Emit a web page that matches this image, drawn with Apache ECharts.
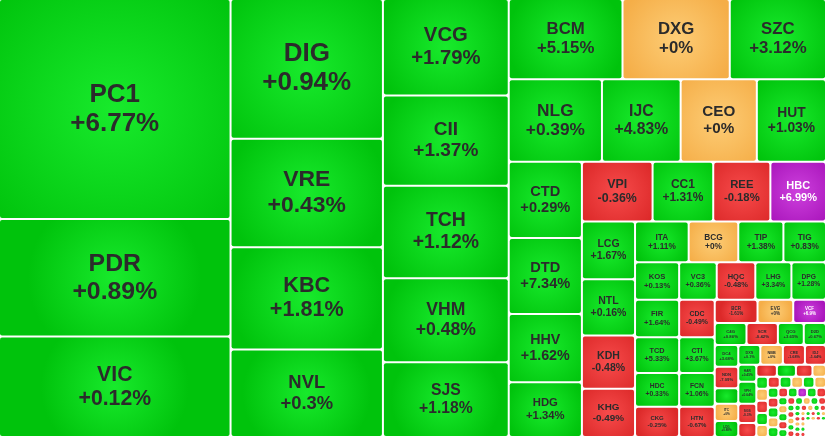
<!DOCTYPE html>
<html>
<head>
<meta charset="utf-8">
<script src="https://cdn.jsdelivr.net/npm/echarts@6/dist/echarts.min.js"></script>
<style>
html,body{margin:0;padding:0;background:#ffffff;}
#chart{width:825px;height:436px;}
</style>
</head>
<body>
<div id="chart"></div>
<script>
// ---- DATA ----
// Tickers in drawing order
const tickers = [
  'PC1','PDR','VIC',
  'DIG','VRE','KBC','NVL',
  'VCG','CII','TCH','VHM','SJS',
  'BCM','DXG','SZC',
  'NLG','IJC','CEO','HUT',
  'CTD','DTD','HHV','HDG',
  'VPI','CC1','REE','HBC',
  'LCG','NTL','KDH','KHG',
  'ITA','BCG','TIP','TIG',
  'KOS','FIR','TCD','HDC','CKG',
  'VC3','HQC','LHG','DPG',
  'CDC','CTI','FCN','HTN',
  'BCR','EVG','VCF',
  'C4G','SCR','QCG','D2D',
  'DC4','NDN','L14','ITC','LDG',
  'DXS','NBB','CRE','IDJ',
  'HAR','VPH','SGS','PTL',
  'TDC','API','PVL','NRC',
  'HPX','SZL','TDH','SIP','DRH',
  'LGL','TIX','HLD','VRC','D11',
  'SZB','KHA','NHA','PDC','CCL',
  'AGG','BII','PPI','LEC','NVT',
  'HD2','SDU','IDV','IDC','DIH',
  'HU1','VCR','KDM','RCL','DTA',
  'CIG','OGC','TN1','VC7','PXL',
  'NTC','SID','PWA','HLR','VPR',
  'BAX','SNZ','HPI','TNI','VHD',
  'PIV','VRG','TLD','DLR','KSF',
  'NDX','HTT','PVR','SHN',
  'VNI','BVL','PVV','QNC'
];
// Size of each cell (relative weight)
const values = [
  50589,27027,23100,
  21128,16416,15504,13224,
  12048,11295,11546,10479,9350,
  9080,8560,7680,
  7626,6437,6232,5658,
  5548,5512,4964,3979,
  4195,3600,3392,3302,
  3048,2968,2809,2544,
  2167,2005,1823,1721,
  1650,1637,1566,1483,1320,
  1406,1444,1350,1294,
  1321,1264,1196,1065,
  982,819,752,
  697,689,568,488,
  505,505,364,400,376,
  429,439,429,410,
  306,396,342,252,
  246,228,198,162,
  138,138,138,138,138,
  130,128,127,126,127,
  104,103,103,102,102.5,
  91,90,90,90.5,89.75,
  72,71,71,71,70.5,
  58,58,57.5,57.5,57.75,
  45,45,45,44.5,44.5,
  38,38,38,37.5,37.5,
  31.5,31.5,31,31,31,
  25.5,25.5,25.5,25.5,25.5,
  26.25,26.25,26.25,26.25,
  23,23.5,23,22.75
];
// Price change in percent
const changes = [
  6.77,0.89,0.12,
  0.94,0.43,1.81,0.3,
  1.79,1.37,1.12,0.48,1.18,
  5.15,0,3.12,
  0.39,4.83,0,1.03,
  0.29,7.34,1.62,1.34,
  -0.36,1.31,-0.18,6.99,
  1.67,0.16,-0.48,-0.49,
  1.11,0,1.38,0.83,
  0.13,1.64,5.33,0.33,-0.25,
  0.36,-0.48,3.34,1.28,
  -0.49,3.67,1.06,-0.67,
  -1.61,0,6.9,
  0.86,-0.42,3.65,0.67,
  3.68,-7.09,0.28,0,0.88,
  0.1,0,-1.68,-1.64,
  0.45,0.64,-0.3,-1.94,
  -1.32,0.5,-1.1,0,
  0.4,0,-1.2,0.9,0,
  -1.5,0.6,0,1.2,0,
  0.8,-0.7,1.1,0,0.5,
  -0.9,0.7,6.9,0.3,-0.6,
  0.4,0,0.2,-0.5,1.4,
  -0.8,0.9,0,0.3,-1.1,
  0.5,-0.4,0,1.5,-0.6,
  0.3,-1,0,0.7,-0.2,
  0.4,-0.3,0,0.8,-0.9,
  0,0.6,-0.4,0.2,0,
  -0.5,0,0.3,-0.8,
  0.4,0,-0.7,0.5
];
// Stocks that closed at the ceiling price
const ceilingTickers = ['HBC','VCF','PPI'];
// Number of stocks in each group (nested list = sub-groups)
const groupSizes = [[2,1],4,5,3,4,4,4,4,4,5,4,4,3,4,5,4,4,4,5,5,5,5,5,5,5,5,5,5,4,4];
// Remaining micro-cap stocks too small to draw
const othersName = 'Khác';
const othersValue = 338.25;

// ---- helpers ----
const changeOf = {};
tickers.forEach((t, i) => { changeOf[t] = changes[i]; });

function fmtChange(c) {
  if (c === undefined) return '';
  return (c >= 0 ? '+' : '') + String(c) + '%';
}
function radial(c0, c1) {
  return { type: 'radial', x: 0.5, y: 0.5, r: 0.75,
    colorStops: [{ offset: 0, color: c0 }, { offset: 1, color: c1 }] };
}
const COLORS = {
  up: radial('#18ea2c', '#00c30c'),
  ref: radial('#fdcd76', '#f5ae48'),
  down: radial('#f74b4b', '#dc2929'),
  ceil: radial('#cd40dd', '#a915bb')
};
function kindOf(name, c) {
  if (ceilingTickers.indexOf(name) >= 0) return 'ceil';
  if (c > 0) return 'up';
  if (c < 0) return 'down';
  return 'ref';
}

function buildData(sizes) {
  let k = 0;
  let gid = 0;
  function leaf() {
    const name = tickers[k], v = values[k], c = changes[k];
    k++;
    const kind = kindOf(name, c);
    const item = { name: name, value: v, itemStyle: { color: COLORS[kind] } };
    let fs;
    if (sizes && sizes[name]) {
      fs = Math.min(26, sizes[name].w * 0.205, sizes[name].h * 0.215);
    } else {
      fs = Math.min(26, Math.sqrt(v) * 0.2);
    }
    if (fs >= 3) {
      item.label = { show: true, fontSize: Math.round(fs * 10) / 10,
        lineHeight: Math.round(fs * 1.12),
        color: kind === 'ceil' ? '#ffffff' : '#2b2b2b' };
    } else {
      item.label = { show: false };
    }
    return item;
  }
  function group(spec) {
    gid++;
    const node = { name: 'grp-' + gid, children: [] };
    if (typeof spec === 'number') {
      for (let i = 0; i < spec; i++) node.children.push(leaf());
    } else {
      spec.forEach(s => node.children.push(group(s)));
    }
    return node;
  }
  const data = groupSizes.map(s => group(s));
  data.push({
    name: 'grp-others',
    itemStyle: { borderWidth: 30 },
    children: [{ name: othersName, value: othersValue, label: { show: false },
      itemStyle: { color: '#ffffff' } }]
  });
  return data;
}

function buildOption(sizes) {
  return {
    animation: false,
    backgroundColor: '#ffffff',
    series: [{
      type: 'treemap',
      left: 0, top: 0, right: 0, bottom: 0,
      roam: false,
      nodeClick: false,
      sort: false,
      squareRatio: 0.001,
      breadcrumb: { show: false },
      upperLabel: { show: false },
      label: {
        show: true,
        position: 'inside',
        padding: 0,
        overflow: 'none',
        fontFamily: '"Liberation Sans", Arial, Helvetica, sans-serif',
        fontWeight: 'bold',
        color: '#2b2b2b',
        formatter: p => p.name + '\n' + fmtChange(changeOf[p.name])
      },
      itemStyle: { gapWidth: 2, borderWidth: 0, borderColor: '#ffffff', borderRadius: 2 },
      emphasis: { disabled: true },
      data: buildData(sizes)
    }]
  };
}

const chart = echarts.init(document.getElementById('chart'), null, { renderer: 'canvas' });
chart.setOption(buildOption(null));
// second pass: size labels to the cells laid out by the library
try {
  const sd = chart.getModel().getSeriesByIndex(0).getData();
  const sizes = {};
  for (let i = 0; i < sd.count(); i++) {
    const lay = sd.getItemLayout(i);
    if (lay) sizes[sd.getName(i)] = { w: lay.width, h: lay.height };
  }
  chart.setOption(buildOption(sizes));
} catch (e) {
  console.error(e);
}
</script>
</body>
</html>
